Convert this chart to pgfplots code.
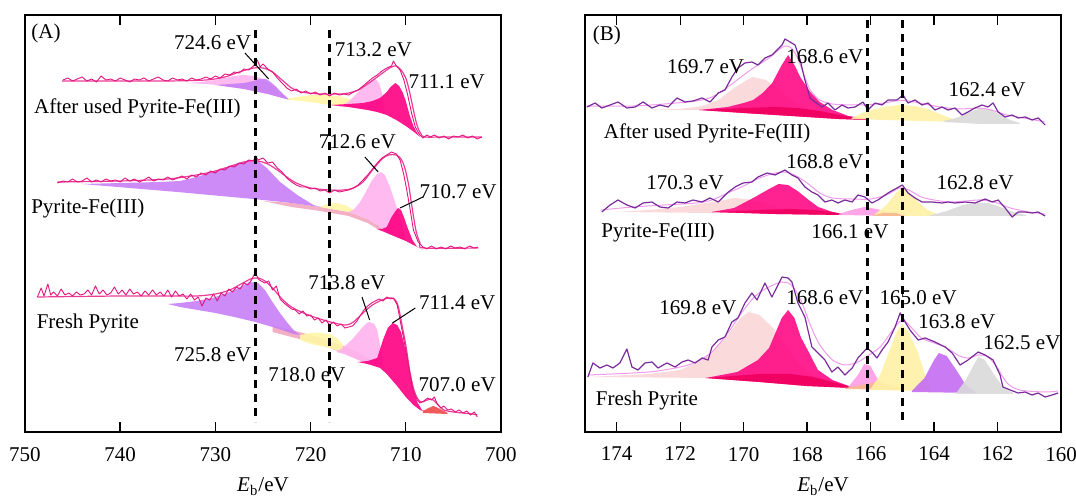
\documentclass[border=0pt]{standalone}
\usepackage{fontspec}
\setmainfont{Liberation Serif}
\usepackage{pgfplots}
\pgfplotsset{compat=1.18}

% Fe 2p colours
\definecolor{feRaw}   {HTML}{E4147F}
\definecolor{feFit}   {HTML}{EC3C96}
\definecolor{cPurple} {HTML}{C77EF5}
\definecolor{cLtPink} {HTML}{FFB4EE}
\definecolor{cDkPink} {HTML}{FF0082}
\definecolor{cYellow} {HTML}{FFF6A6}
\definecolor{cBand}   {HTML}{F2A6BC}
\definecolor{cRed}    {HTML}{F04848}
% S 2p colours
\definecolor{sRaw}    {HTML}{7B2C9C}
\definecolor{sFit}    {HTML}{F09CEC}
\definecolor{sSalmon} {HTML}{FBD6D8}
\definecolor{sDkPink} {HTML}{FF0A84}
\definecolor{sCrimson}{HTML}{F0005E}
\definecolor{sPink}   {HTML}{FF9CE6}
\definecolor{sOrange} {HTML}{F8B890}
\definecolor{sYellow} {HTML}{FFF1A6}
\definecolor{sPurple} {HTML}{C46CF2}
\definecolor{sGrey}   {HTML}{D9D9D9}

\newcommand\lab{\fontsize{10.5}{12}\selectfont}

\pgfplotsset{
  xpsbase/.style={
    scale only axis,
    width=238pt, height=208.5pt,
    anchor=south west,
    x dir=reverse, y dir=reverse,
    ymin=15, ymax=432,
    ytick=\empty,
    tick align=inside,
    major tick length=5pt,
    axis line style={line width=0.7pt},
    tick style={line width=0.7pt, black},
    clip=false,
    /pgf/number format/assume math mode=true,
    ticklabel style={font=\lab},
    xticklabel style={yshift=-4pt},
    xlabel={\textit{E}\textsubscript{b}/eV},
    xlabel style={font=\lab, yshift=-1.5pt},
  },
  comp/.style={draw=none, fill=#1, fill opacity=0.9, forget plot},
  feraw/.style={color=feRaw, line width=0.45pt, line join=round, forget plot},
  fefit/.style={color=feFit, line width=0.6pt, smooth, forget plot},
  sraw/.style={color=sRaw, line width=0.6pt, line join=round, forget plot},
  sfit/.style={color=sFit, line width=0.5pt, smooth, forget plot},
  vdash/.style={black, line width=1.2pt, dash pattern=on 4pt off 3pt, forget plot},
}

\begin{document}
\begin{tikzpicture}
\useasboundingbox (0,0) rectangle (538pt,248pt);

% =================== (A) Fe 2p ===================
\begin{axis}[xpsbase, at={(12.5pt,32pt)},
  xmin=700, xmax=750, xtick={700,710,...,750}]

% --- After used Pyrite-Fe(III)
\addplot[comp=cLtPink] coordinates {(733,83)(731.5,82)(730,80)(729,78)(728,76)(727,75)(726,76)(725.3,78)(724.5,83)(723.8,88)(723,94)(722.5,99)(724.5,94)(727,89)(729.8,85)(731,84)} -- cycle;
\addplot[comp=cPurple] coordinates {(730,85)(728.5,84)(727,83)(726,81)(725.3,79)(724.7,79)(724.2,82)(723.6,87)(723,93)(722.2,100)(724.5,94)(727,89)} -- cycle;
\addplot[comp=cYellow] coordinates {(722.5,99)(721.5,97)(720,95)(718.5,95)(717,96)(716,99)(715.3,103)(714.8,108)(716,107)(718,105)(720,102)(722.2,100)} -- cycle;
\addplot[comp=cLtPink] coordinates {(717,106)(716.2,103)(715.5,97)(714.8,90)(714.2,84)(713.6,80)(713.2,79)(712.8,83)(712.5,93)(712.3,104)(712.1,114)(713,112)(714,110)(716,107)} -- cycle;
\addplot[comp=cDkPink] coordinates {(718,105)(716,104)(714.5,103)(713.5,101)(712.7,98)(712,92)(711.6,87)(711.1,83)(710.7,86)(710.3,93)(710,101)(709.6,115)(709.2,126)(708.8,133)(708.5,137)(709,133)(710,126)(711,120)(712,115)(713,112)(714,110)(716,107)} -- cycle;
\addplot[fefit] coordinates {(746.1,81)(740,81)(735,81)(731,80)(729,77)(727.5,72)(726,68)(725,68)(724,72)(723,80)(722,88)(721,92)(719,94)(717,94)(716,93)(715,90)(714,84)(713,77)(712,70)(711.5,67)(711,66)(710.5,70)(710,78)(709.6,92)(709.2,110)(708.8,126)(708.4,134)(708,137)(706,137)(702,137)};
\addplot[feraw] coordinates {(746.0,80)(745.5,78)(745.0,81)(744.5,79)(744.0,77)(743.5,81)(743.0,79)(742.5,82)(742.0,76)(741.5,80)(741.0,79)(740.5,81)(740.0,78)(739.5,80)(739.0,82)(738.5,79)(738.0,80)(737.5,78)(737.0,81)(736.5,79)(736.0,77)(735.5,80)(735.0,81)(734.5,78)(734.0,80)(733.5,79)(733.0,81)(732.5,78)(732.0,80)(731.5,79)(731.0,77)(730.5,79)(730.0,76)(729.5,78)(729.0,74)(728.5,75)(728.0,72)(727.5,73)(727.0,69)(726.5,70)(726.0,66)(725.6,60)(725.3,67)(725.0,64)(724.5,69)(724.0,72)(723.5,78)(723.0,83)(722.5,88)(722.0,91)(721.5,89)(721.0,93)(720.5,91)(720.0,94)(719.5,92)(719.0,95)(718.5,93)(718.0,96)(717.5,93)(717.0,95)(716.5,94)(716.0,95)(715.5,92)(715.0,90)(714.5,86)(714.0,82)(713.5,78)(713.0,75)(712.5,71)(712.0,68)(711.5,66)(711.3,61)(711.0,66)(710.6,70)(710.2,80)(709.8,95)(709.4,113)(709.0,127)(708.6,134)(708.2,138)(707.8,135)(707.4,137)(707.0,135)(706.5,138)(706.0,136)(705.5,139)(705.0,136)(704.5,137)(704.0,135)(703.5,138)(703.0,136)(702.5,139)(702.0,137)};

% --- Pyrite-Fe(III)
\addplot[comp=cBand] coordinates {(725,201)(722,203)(719,207)(716,212)(714,219)(713,225)(712.5,229)(712.5,231)(713,229)(714,223)(716,216)(719,211)(722,207)} -- cycle;
\addplot[comp=cPurple] coordinates {(744,184)(740,183)(736,182)(733.7,181)(732,177)(730.3,172)(728.5,166)(727.3,162)(726.3,160)(725.5,161)(724.6,168)(723.2,182)(721.4,195)(719.7,205)(719,207)(722,203)(725,200)(726,199)(734,192)} -- cycle;
\addplot[comp=cYellow] coordinates {(719,207)(718.3,204)(717.3,203)(716.4,205)(715.6,209)(715,214)(716,212)} -- cycle;
\addplot[comp=cLtPink] coordinates {(716,212)(715.5,210)(714.8,202)(714.2,192)(713.6,181)(713,174)(712.6,172)(712.2,175)(711.7,186)(711.2,200)(710.7,215)(710.3,230)(710,240)(711,237)(712,233)(713,225)(714,219)} -- cycle;
\addplot[comp=cDkPink] coordinates {(713,229)(712.5,229)(712,227)(711.5,217)(711,210)(710.8,208)(710.5,210)(710.2,217)(709.8,228)(709.3,240)(708.8,247)(708.2,250)(709,246)(710,241)(711,237)(712,233)} -- cycle;
\addplot[fefit] coordinates {(746.6,182)(740,181)(735,179)(732,175)(730,171)(728,165)(726.5,161)(725.5,161)(724.5,164)(723.5,170)(722.5,177)(721.5,183)(720,188)(718,190)(716.5,190)(715.5,188)(714.5,182)(713.5,170)(712.5,159)(711.8,155)(711,155)(710.5,159)(710.1,168)(709.7,185)(709.3,210)(708.9,232)(708.5,243)(708.1,248)(702.4,248)};
\addplot[feraw] coordinates {(746.6,183)(746,181)(745.5,182)(745,179)(744.5,182)(744,181)(743.5,178)(743,182)(742.5,180)(742,182)(741.5,179)(741,181)(740.5,180)(740,182)(739.5,178)(739,181)(738.5,179)(738,182)(737.5,180)(737,177)(736.5,181)(736,179)(735.5,180)(735,177)(734.5,180)(734,178)(733.5,176)(733,179)(732.5,175)(732,177)(731.5,173)(731,175)(730.5,171)(730,173)(729.5,169)(729,170)(728.5,166)(728,167)(727.5,163)(727,164)(726.5,160)(726,161)(725.8,156)(725.5,160)(725,158)(724.5,163)(724,162)(723.5,168)(723,172)(722.5,178)(722,182)(721.5,185)(721,187)(720.5,187)(720,189)(719.5,188)(719,191)(718.5,190)(718,193)(717.5,190)(717,192)(716.5,191)(716,190)(715.5,188)(715,185)(714.5,180)(714,175)(713.5,169)(713,163)(712.5,158)(712,155)(711.5,152)(711,154)(710.6,160)(710.2,175)(709.9,190)(709.5,212)(709.2,230)(708.7,242)(708.2,247)(707.8,249)(707.3,246)(706.8,249)(706.3,247)(705.8,249)(705.3,246)(704.8,248)(704.3,247)(703.8,249)(703.3,246)(702.8,248)(702.4,247)};

% --- Fresh Pyrite
\addplot[comp=cBand] coordinates {(724,326)(722,330)(720,335)(718,341)(716,348)(714.5,355)(713.8,359)(713.8,365)(716,355)(718,348)(720,342)(722,337)(724,332)} -- cycle;
\addplot[comp=cPurple] coordinates {(735,304)(733.7,303)(732,301)(730.3,298)(728.5,292)(727.4,287)(726.4,282)(725.5,283)(724.8,290)(724,302)(723.3,312)(722.5,322)(721.8,330)(721.1,335)(721.8,334)(723,330)(724,327)(725.8,322)(728,317)(730,313)(733.7,307)} -- cycle;
\addplot[comp=cYellow] coordinates {(721.1,335)(720,333)(719,333)(718,334)(717.2,338)(716.6,345)(716.6,352)(718,348)(720,344)(721.1,340)} -- cycle;
\addplot[comp=cLtPink] coordinates {(717.3,352)(716.5,347)(715.5,338)(714.7,329)(714.1,323)(713.8,322)(713.3,324)(713,330)(712.7,345)(712.4,362)(712.4,366)(713.5,365)(715,360)(716.5,354)} -- cycle;
\addplot[comp=cDkPink] coordinates {(715.1,362)(714,361)(713,358)(712.4,340)(711.9,328)(711.4,323)(710.9,325)(710.5,332)(710.1,347)(709.9,355)(709.5,375)(709.2,388)(708.8,402)(708.3,410)(707.8,412)(708.5,410)(709.2,405)(710,397)(711,385)(712,374)(712.7,368)(714,364)} -- cycle;
\addplot[comp=cRed] coordinates {(708.2,411)(707.6,408)(707.1,406)(706.6,408)(706,411)(705.6,413)(705.6,414)(708.2,413)} -- cycle;
\addplot[fefit] coordinates {(748.7,297)(740,296)(735,296)(732,296)(730,294)(728.5,290)(727.3,284)(726.3,279)(725.5,278)(724.8,281)(724,288)(723,299)(722,307)(720.5,314)(719,319)(717.5,323)(716.3,325)(715.5,322)(714.5,313)(713.5,305)(712.5,300)(711.8,298)(711.2,299)(710.8,306)(710.4,325)(710,345)(709.6,370)(709.2,388)(708.8,398)(708.4,402)(708,401)(707.4,399)(707,401)(706.5,406)(706,410)(705,412)(703,414)(702.5,415)};
\addplot[feraw] coordinates {(748.7,297)(748.3,288)(748,296)(747.6,284)(747.3,295)(747,292)(746.6,296)(746.2,289)(745.8,295)(745.4,293)(745,296)(744.6,292)(744.2,295)(743.8,294)(743.4,290)(743,295)(742.6,286)(742.2,294)(741.8,290)(741.4,295)(741,293)(740.6,287)(740.2,294)(739.8,290)(739.4,295)(739,289)(738.6,294)(738.2,292)(737.8,296)(737.4,291)(737,295)(736.6,290)(736.2,295)(735.8,292)(735.4,296)(735,290)(734.6,297)(734.2,291)(733.8,296)(733.4,294)(733,299)(732.6,294)(732.2,300)(731.8,297)(731.4,306)(731,298)(730.6,300)(730.2,294)(729.8,301)(729.4,293)(729,296)(728.6,289)(728.2,292)(727.8,287)(727.4,289)(727,283)(726.6,285)(726.2,280)(725.8,272)(725.5,279)(725.2,281)(724.8,283)(724.4,281)(724,290)(723.6,286)(723.2,299)(722.8,303)(722.4,306)(722,309)(721.6,310)(721.2,314)(720.8,311)(720.4,316)(720,315)(719.6,320)(719.2,318)(718.8,323)(718.4,320)(718,325)(717.6,322)(717.2,326)(716.8,324)(716.4,328)(716,327)(715.6,326)(715.2,322)(714.8,316)(714.4,310)(714,306)(713.6,303)(713.2,301)(712.8,299)(712.4,301)(712,297)(711.6,299)(711.3,298)(710.9,305)(710.6,320)(710.2,340)(709.9,355)(709.5,378)(709.2,392)(708.8,400)(708.5,403)(708.1,401)(707.7,398)(707.3,400)(707,397)(706.7,404)(706.3,408)(706,406)(705.6,410)(705.2,409)(704.8,412)(704.4,410)(704,413)(703.6,411)(703.2,415)(702.8,412)(702.5,417)};

% dashed reference lines
\addplot[vdash] coordinates {(725.8,30)(725.8,422)};
\addplot[vdash] coordinates {(718.0,30)(718.0,422)};

% labels
\node[font=\lab] at (axis cs:747.8,33) {(A)};
\node[font=\lab] at (axis cs:730.3,43) {724.6 eV};
\draw[line width=0.5pt] (axis cs:726.9,53) -- (axis cs:724.4,79);
\node[font=\lab] at (axis cs:713.4,50) {713.2 eV};
\node[font=\lab] at (axis cs:705.7,82) {711.1 eV};
\node[font=\lab] at (axis cs:738.2,108) {After used Pyrite-Fe(III)};
\node[font=\lab] at (axis cs:715.1,142) {712.6 eV};
\draw[line width=0.5pt] (axis cs:714.3,157) -- (axis cs:712.9,172);
\node[font=\lab] at (axis cs:704.5,192) {710.7 eV};
\draw[line width=0.5pt] (axis cs:708.2,197) -- (axis cs:710.6,208);
\node[font=\lab] at (axis cs:743.4,208) {Pyrite-Fe(III)};
\node[font=\lab] at (axis cs:716.2,283) {713.8 eV};
\draw[line width=0.5pt] (axis cs:714.6,297) -- (axis cs:713.8,320);
\node[font=\lab] at (axis cs:704.6,303) {711.4 eV};
\draw[line width=0.5pt] (axis cs:709.0,308) -- (axis cs:711.4,323);
\node[font=\lab] at (axis cs:743.4,323) {Fresh Pyrite};
\node[font=\lab] at (axis cs:730.3,355) {725.8 eV};
\node[font=\lab] at (axis cs:720.4,375) {718.0 eV};
\node[font=\lab] at (axis cs:704.6,385) {707.0 eV};
\end{axis}

% =================== (B) S 2p ===================
\begin{axis}[xpsbase, at={(292.5pt,32pt)},
  xmin=160, xmax=175, xtick={160,162,...,174}]

% --- After used Pyrite-Fe(III)
\addplot[comp=sSalmon] coordinates {(173.2,110)(172,109)(171.3,106)(170.8,100)(170.3,88)(169.9,80)(169.7,77)(169.3,80)(168.9,89)(168.6,98)(168.2,106)(167.8,111)(167.8,113)(169,112)(171,110)} -- cycle;
\addplot[comp=sDkPink] coordinates {(171.4,110)(170.5,107)(170,103)(169.7,100)(169.4,93)(169.1,83)(168.8,65)(168.6,55)(168.4,65)(168.2,78)(167.9,92)(167.6,102)(167.2,110)(166.7,116)(166.1,119)(166.1,120)(167,119)(168.5,116)(170,113)} -- cycle;
\addplot[comp=sCrimson] coordinates {(171.4,110)(170,108)(169,107)(168.3,108)(167.6,111)(166.8,116)(166.1,119)(166.1,120)(167,119)(168.5,116)(170,113)} -- cycle;
\addplot[comp=sYellow] coordinates {(166.6,118)(166.2,112)(165.6,107)(165.1,105)(164.6,106)(164.2,109)(163.9,113)(163.5,118)(163.2,121)(163.2,122)(164.5,121)(165.5,120)(166.6,119)} -- cycle;
\addplot[comp=sGrey] coordinates {(163.7,121)(163.3,118)(163,114)(162.7,110)(162.5,108)(162.2,110)(161.9,115)(161.6,120)(161.3,123)(161.3,124)(162.5,124)(163.7,122)} -- cycle;
\addplot[sfit] coordinates {(174.94,106)(173.5,106)(172.5,104)(171.5,101)(171,97)(170.5,87)(170,75)(169.6,66)(169.2,58)(168.9,50)(168.7,46)(168.5,48)(168.3,58)(168.1,75)(167.9,90)(167.6,100)(167.2,104)(166.5,105)(165.8,104)(165.2,101)(164.8,101)(164.3,104)(163.8,107)(163.2,109)(162.6,108)(162.2,110)(161.7,115)(161,119)(160.5,122)};
\addplot[sraw] coordinates {(174.94,107)(174.68,103)(174.47,108)(174.21,105)(173.96,102)(173.68,108)(173.42,107)(173.17,102)(172.89,108)(172.64,105)(172.38,107)(172.1,98)(171.85,102)(171.6,101)(171.31,98)(171.06,102)(170.8,93)(170.59,90)(170.37,77)(170.18,68)(169.96,63)(169.74,62)(169.55,65)(169.33,58)(169.11,55)(168.95,50)(168.79,45)(168.7,39)(168.54,42)(168.38,45)(168.22,60)(168.07,80)(167.91,98)(167.75,102)(167.53,107)(167.34,103)(167.12,110)(166.9,105)(166.71,108)(166.49,107)(166.24,102)(166.08,110)(165.86,103)(165.64,105)(165.45,100)(165.17,100)(164.98,95)(164.82,103)(164.6,100)(164.38,105)(164.19,103)(163.97,110)(163.75,107)(163.56,110)(163.34,108)(163.12,115)(162.93,112)(162.71,108)(162.49,105)(162.30,107)(162.14,103)(161.98,112)(161.76,117)(161.54,115)(161.35,118)(161.13,117)(160.91,120)(160.72,118)(160.5,125)};

% --- Pyrite-Fe(III)
\addplot[comp=sSalmon] coordinates {(174,212)(173,210)(172,207)(171.2,203)(170.6,200)(170.3,198)(169.9,199)(169.4,203)(168.9,208)(168.4,212)(168.4,213)(171,213)} -- cycle;
\addplot[comp=sDkPink] coordinates {(171,212)(170.3,208)(169.7,198)(169.2,189)(168.9,184)(168.6,185)(168.3,191)(167.95,200)(167.65,207)(167.2,212)(166.9,214)(166.9,215)(169,214)} -- cycle;
\addplot[comp=sCrimson] coordinates {(171,212)(169.5,210)(168.5,209)(167.8,210)(167.2,212)(166.9,214)(166.9,215)(169,214)} -- cycle;
\addplot[comp=sPink] coordinates {(167,214)(166.6,210)(166.2,207)(165.8,209)(165.4,213)(165.1,215)(165.1,216)(167,215)} -- cycle;
\addplot[comp=sYellow] coordinates {(165.9,215)(165.5,205)(165.2,193)(165,187)(164.8,192)(164.5,202)(164.2,210)(163.9,214)(163.9,216)(165.9,216)} -- cycle;
\addplot[comp=sOrange] coordinates {(166,216)(165.6,213)(165.2,213)(164.9,216)} -- cycle;
\addplot[comp=sGrey] coordinates {(164.2,216)(163.6,211)(163.1,205)(162.7,203)(162.3,203)(162,206)(161.6,211)(161.1,215)(161.1,216)} -- cycle;
\addplot[sfit] coordinates {(174.5,210)(173.5,207)(172.5,205)(171.5,203)(171,200)(170.5,193)(170,186)(169.5,178)(169,173)(168.7,172)(168.4,175)(168,183)(167.6,193)(167.2,198)(166.6,199)(166,199)(165.5,195)(165.1,188)(164.8,190)(164.4,197)(164,200)(163.5,202)(163,201)(162.5,200)(162,203)(161.6,208)(161,212)(160.5,214)};
\addplot[sraw] coordinates {(174.47,212)(174.21,205)(173.96,200)(173.68,205)(173.42,208)(173.17,203)(172.89,202)(172.64,207)(172.38,208)(172.1,202)(171.85,203)(171.6,200)(171.31,202)(171.06,198)(170.8,202)(170.52,193)(170.27,187)(170.02,183)(169.74,182)(169.55,177)(169.26,173)(169.01,175)(168.7,170)(168.48,175)(168.29,178)(168.07,187)(167.85,192)(167.66,195)(167.44,202)(167.22,200)(167.03,203)(166.81,200)(166.58,202)(166.4,195)(166.18,197)(165.96,203)(165.77,200)(165.45,193)(165.17,188)(165.0,185)(164.82,193)(164.6,198)(164.38,202)(164.06,202)(163.75,203)(163.56,202)(163.34,203)(163.02,202)(162.71,203)(162.39,199)(162.17,202)(161.98,200)(161.76,208)(161.54,217)(161.35,212)(161.13,212)(160.91,213)(160.72,212)(160.5,216)};

% --- Fresh Pyrite
\addplot[comp=sSalmon] coordinates {(174.9,377)(173,374)(172,370)(171.5,363)(171,352)(170.5,335)(170.1,318)(169.85,312)(169.5,315)(169.1,327)(168.7,345)(168.3,362)(167.9,375)(167.5,383)(167.5,386)(169,383)(171,378)} -- cycle;
\addplot[comp=sDkPink] coordinates {(171.2,378)(170.2,372)(169.55,360)(169.2,348)(169,333)(168.8,318)(168.6,310)(168.4,318)(168.2,337)(167.9,355)(167.66,370)(167.2,380)(166.6,387)(166.6,388)(168,386)(169.5,382)} -- cycle;
\addplot[comp=sCrimson] coordinates {(171.2,378)(169.5,374)(168.5,374)(167.8,377)(167.2,382)(166.6,387)(166.6,388)(168,386)(169.5,382)} -- cycle;
\addplot[comp=sPink] coordinates {(166.7,387)(166.4,375)(166.2,364)(166.0,366)(165.8,378)(165.5,388)(165.5,389)(166.7,388)} -- cycle;
\addplot[comp=sOrange] coordinates {(166.8,388)(166.3,385)(165.8,382)(165.3,386)(165,389)(165,390)(166.8,389)} -- cycle;
\addplot[comp=sYellow] coordinates {(166,389)(165.7,375)(165.4,350)(165.15,330)(165.0,325)(164.8,332)(164.5,353)(164.3,373)(164.1,389)(164.1,391)(166,390)} -- cycle;
\addplot[comp=sPurple] coordinates {(164.7,391)(164.3,378)(164.0,360)(163.85,353)(163.6,356)(163.3,370)(163.0,385)(162.7,392)(162.7,393)(164.7,392)} -- cycle;
\addplot[comp=sGrey] coordinates {(163.3,393)(163,380)(162.75,365)(162.6,357)(162.4,360)(162.1,375)(161.8,388)(161.5,393)(161.5,394)(163.3,394)} -- cycle;
\addplot[sfit] coordinates {(174.9,375)(173,372)(172,367)(171.5,362)(171,352)(170.5,333)(170,310)(169.6,295)(169.2,287)(168.8,282)(168.5,285)(168.2,300)(167.9,325)(167.6,345)(167.2,360)(166.8,365)(166.4,362)(166.1,356)(165.7,347)(165.3,330)(165.0,320)(164.7,328)(164.4,338)(164,343)(163.6,348)(163.2,356)(162.9,358)(162.6,355)(162.3,357)(162,368)(161.7,383)(161.3,390)(160.5,392)(160.1,391)};
\addplot[sraw] coordinates {(174.91,377)(174.75,363)(174.53,368)(174.31,365)(174.12,368)(173.9,363)(173.68,349)(173.52,367)(173.33,370)(173.11,363)(172.89,362)(172.7,368)(172.42,363)(172.16,367)(171.94,362)(171.75,360)(171.53,363)(171.31,358)(171.12,360)(171.0,347)(170.8,340)(170.59,337)(170.37,322)(170.18,318)(169.96,303)(169.74,293)(169.58,300)(169.33,283)(169.11,297)(168.95,287)(168.79,277)(168.6,278)(168.48,282)(168.29,303)(168.07,317)(167.85,347)(167.66,353)(167.44,360)(167.22,372)(167.03,367)(166.81,375)(166.58,368)(166.4,358)(166.11,348)(165.96,352)(165.8,358)(165.64,350)(165.45,342)(165.23,327)(165.07,313)(164.91,322)(164.76,330)(164.5,340)(164.28,338)(163.97,342)(163.65,347)(163.43,353)(163.18,365)(162.93,360)(162.61,352)(162.39,355)(162.14,360)(161.92,375)(161.83,387)(161.6,390)(161.35,393)(161.13,392)(160.91,395)(160.72,393)(160.5,397)(160.28,395)(160.09,393)};

% dashed reference lines
\addplot[vdash] coordinates {(166.1,20)(166.1,421)};
\addplot[vdash] coordinates {(165.0,20)(165.0,421)};

% labels
\node[font=\lab] at (axis cs:174.31,35) {(B)};
\node[font=\lab] at (axis cs:171.2,67) {169.7 eV};
\node[font=\lab] at (axis cs:167.44,57) {168.6 eV};
\node[font=\lab] at (axis cs:162.33,90) {162.4 eV};
\node[font=\lab] at (axis cs:171.15,133) {After used Pyrite-Fe(III)};
\node[font=\lab] at (axis cs:167.44,162) {168.8 eV};
\node[font=\lab] at (axis cs:171.85,183) {170.3 eV};
\node[font=\lab] at (axis cs:162.71,183) {162.8 eV};
\node[font=\lab] at (axis cs:172.7,232) {Pyrite-Fe(III)};
\node[font=\lab] at (axis cs:166.65,232) {166.1 eV};
\node[font=\lab] at (axis cs:171.44,308) {169.8 eV};
\node[font=\lab] at (axis cs:167.44,298) {168.6 eV};
\node[font=\lab] at (axis cs:164.5,298) {165.0 eV};
\node[font=\lab] at (axis cs:163.28,322) {163.8 eV};
\node[font=\lab] at (axis cs:161.23,343) {162.5 eV};
\node[font=\lab] at (axis cs:173.05,400) {Fresh Pyrite};
\end{axis}
\end{tikzpicture}
\end{document}
